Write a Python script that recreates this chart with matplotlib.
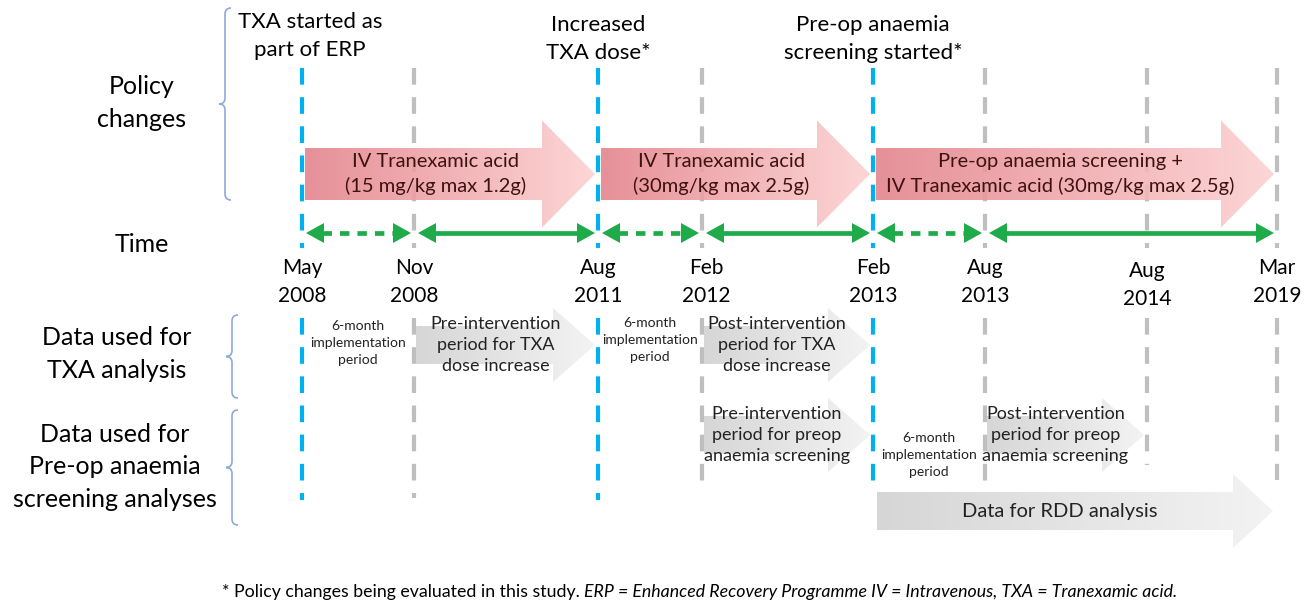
import matplotlib.pyplot as plt
import numpy as np
from matplotlib.colors import to_rgb
from matplotlib.patches import Polygon, PathPatch
from matplotlib.path import Path

plt.rcParams["font.family"] = ["Lato", "DejaVu Sans"]

# ---- timeline data ----
dates = ["May\n2008", "Nov\n2008", "Aug\n2011", "Feb\n2012",
         "Feb\n2013", "Aug\n2013", "Aug\n2014", "Mar\n2019"]
policy_change = [True, False, True, False, True, False, False, False]
policy_labels = ["TXA started as\npart of ERP", "Increased\nTXA dose*",
                 "Pre-op anaemia\nscreening started*"]

# treatment periods (index into dates)
treat_start = [0, 2, 4]
treat_end = [2, 4, 7]
treat_text = ["IV Tranexamic acid\n(15 mg/kg max 1.2g)",
              "IV Tranexamic acid\n(30mg/kg max 2.5g)",
              "Pre-op anaemia screening +\nIV Tranexamic acid (30mg/kg max 2.5g)"]

# time periods: dotted = 6-month implementation
period_start = [0, 1, 2, 3, 4, 5]
period_end = [1, 2, 3, 4, 5, 7]
period_impl = [True, False, True, False, True, False]

# analysis data periods
txa_start = [1, 3]
txa_end = [2, 4]
txa_text = ["Pre-intervention\nperiod for TXA\ndose increase",
            "Post-intervention\nperiod for TXA\ndose increase"]
anaemia_start = [3, 5]
anaemia_end = [4, 6]
anaemia_text = ["Pre-intervention\nperiod for preop\nanaemia screening",
                "Post-intervention\nperiod for preop\nanaemia screening"]
impl_txa = [0, 2]
impl_anaemia = [4]
rdd_start, rdd_end = 4, 7
rdd_text = "Data for RDD analysis"

row_labels = ["Policy\nchanges", "Time", "Data used for\nTXA analysis",
              "Data used for\nPre-op anaemia\nscreening analyses"]
footnote_plain = "* Policy changes being evaluated in this study. "
footnote_italic = ("ERP = Enhanced Recovery Programme IV = Intravenous, "
                   "TXA = Tranexamic acid.")

# ---- layout (pixel space) ----
col_x = [302, 414, 598, 702, 873, 985, 1147, 1277]
line_bottom = [500, 498, 500, 490, 490, 490, 465, 480]
blue = "#00b0f0"
grey = "#bfbfbf"
green = "#1fab4a"
brace_col = "#8eaadb"

fig = plt.figure(figsize=(13.04, 6.07), dpi=100)
ax = fig.add_axes([0, 0, 1, 1])
ax.set_xlim(0, 1304)
ax.set_ylim(607, 0)
ax.axis("off")


def grad_arrow(x0, x1, yc, body_h, head_h, head_len, c0, c1, alpha=1.0, z=3):
    xb = x1 - head_len
    verts = [(x0, yc - body_h / 2), (xb, yc - body_h / 2), (xb, yc - head_h / 2),
             (x1, yc), (xb, yc + head_h / 2), (xb, yc + body_h / 2),
             (x0, yc + body_h / 2)]
    poly = Polygon(verts, closed=True, facecolor="none", edgecolor="none")
    ax.add_patch(poly)
    t = np.linspace(0, 1, 256)[:, None]
    c0, c1 = np.array(to_rgb(c0)), np.array(to_rgb(c1))
    img = np.ones((1, 256, 4))
    img[0, :, :3] = c0 + (c1 - c0) * t
    img[0, :, 3] = alpha
    im = ax.imshow(img, extent=(x0, x1, yc + head_h / 2, yc - head_h / 2),
                   aspect="auto", zorder=z, interpolation="bilinear")
    im.set_clip_path(poly)


def brace(x, y0, y1, w=6):
    ym = (y0 + y1) / 2
    verts = [(x + w, y0), (x, y0), (x, y0 + w), (x, ym - w), (x, ym), (x - w, ym),
             (x, ym), (x, ym + w), (x, y1 - w), (x, y1), (x + w, y1)]
    codes = [Path.MOVETO, Path.CURVE3, Path.CURVE3, Path.LINETO, Path.CURVE3,
             Path.CURVE3, Path.CURVE3, Path.CURVE3, Path.LINETO, Path.CURVE3,
             Path.CURVE3]
    ax.add_patch(PathPatch(Path(verts, codes), facecolor="none",
                           edgecolor=brace_col, lw=1.2))


def green_arrow(a, b, y, dotted):
    hl, hw = 18, 10
    ls = (0, (2.0, 1.7)) if dotted else "-"
    ax.plot([a + hl - 2, b - hl + 2], [y, y], color=green, lw=3.4, ls=ls,
            solid_capstyle="butt", dash_capstyle="butt", zorder=4)
    ax.fill([a, a + hl, a + hl], [y, y - hw, y + hw], color=green, lw=0, zorder=4)
    ax.fill([b, b - hl, b - hl], [y, y - hw, y + hw], color=green, lw=0, zorder=4)


# vertical date lines
for i, x in enumerate(col_x):
    c = blue if policy_change[i] else grey
    for ya, yb in [(68, 248), (318, line_bottom[i])]:
        ax.plot([x, x], [ya, yb], color=c, lw=3, ls=(0, (4, 3)),
                dash_capstyle="butt", zorder=1)
    ax.text(x + (4 if i == 3 else 0), 282 + (3 if i == 6 else 0), dates[i],
            ha="center", va="center", fontsize=15, linespacing=1.45)

# policy labels at top
for lab, i in zip(policy_labels, [j for j, p in enumerate(policy_change) if p]):
    ax.text(col_x[i] + (8 if i == 0 else 0), 36 + (3 if i else 0), lab,
            ha="center", va="center", fontsize=16, linespacing=1.5)

# treatment arrows
for s, e, txt in zip(treat_start, treat_end, treat_text):
    x0, x1 = col_x[s] + 3, col_x[e] - 3
    grad_arrow(x0, x1, 174, 52, 107, 53, "#e3818a", "#fdd0d0", alpha=0.88)
    ax.text((x0 + x1 - 53) / 2 + 12, 174, txt, ha="center", va="center",
            fontsize=14.5, color="#3f1212", linespacing=1.5, zorder=5)

# time arrows
for s, e, impl in zip(period_start, period_end, period_impl):
    green_arrow(col_x[s] + 4, col_x[e] - 3, 233, impl)

# implementation period notes
for i, yc in [(impl_txa[0], 343), (impl_txa[1], 340), (impl_anaemia[0], 455)]:
    ax.text((col_x[i] + col_x[i + 1]) / 2, yc, "6-month\nimplementation\nperiod",
            ha="center", va="center", fontsize=10, color="#222222",
            linespacing=1.5, zorder=5)

# analysis arrows
grey0, grey1 = "#d6d6d6", "#f3f3f3"
for starts, ends, texts, yc in [(txa_start, txa_end, txa_text, 345),
                                (anaemia_start, anaemia_end, anaemia_text, 435)]:
    for s, e, txt in zip(starts, ends, texts):
        x0, x1 = col_x[s] + 2, col_x[e] - 3
        grad_arrow(x0, x1, yc, 38, 74, 42, grey0, grey1)
        ax.text((x0 + x1 - 20) / 2, yc, txt, ha="center", va="center",
                fontsize=13, color="#222222", linespacing=1.4, zorder=5)

x0, x1 = col_x[rdd_start] + 4, col_x[rdd_end] - 4
grad_arrow(x0, x1, 511, 38, 74, 40, grey0, grey1)
ax.text(1060, 511, rdd_text, ha="center", va="center", fontsize=14.5,
        color="#222222", zorder=5)

# row labels and braces
for lab, (xc, yc) in zip(row_labels, [(142, 103), (142, 245),
                                      (117, 354), (115, 467)]):
    ax.text(xc, yc, lab, ha="center", va="center", fontsize=18, linespacing=1.5)
brace(225, 8, 200)
brace(232, 315, 398)
brace(232, 410, 525)

# footnote: plain part then italic part
t1 = ax.text(222, 592, footnote_plain, ha="left", va="center", fontsize=12.8)
fig.canvas.draw()
bb = t1.get_window_extent()
xe = ax.transData.inverted().transform((bb.x1, bb.y0))[0]
ax.text(xe, 592, footnote_italic, ha="left", va="center", fontsize=12.8,
        style="italic")

fig.savefig("out.png", dpi=100)
